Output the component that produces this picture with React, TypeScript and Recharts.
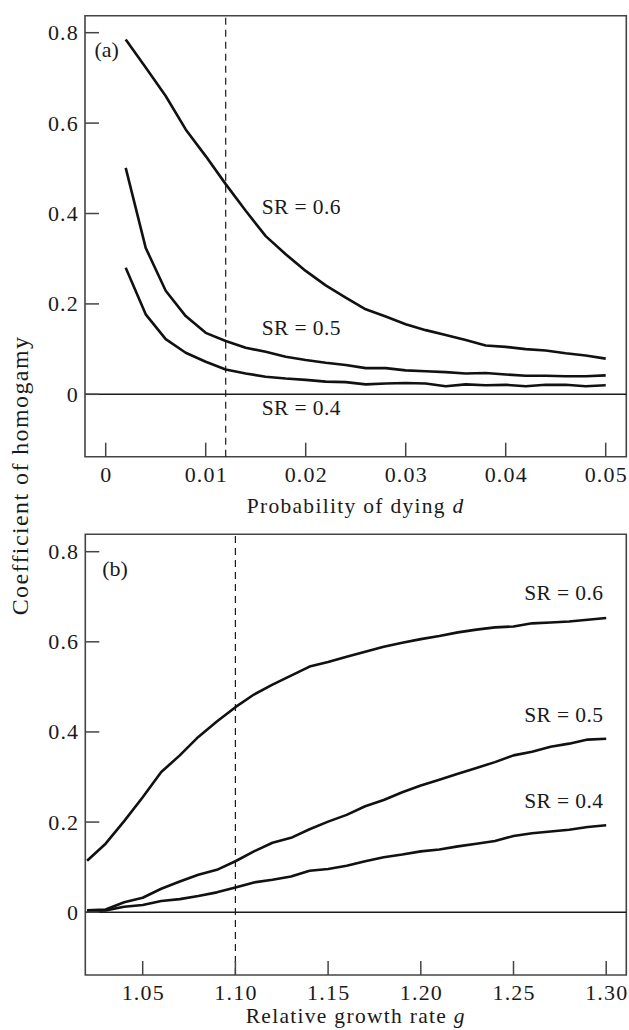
import React from 'react';
import { LineChart, Line, XAxis, YAxis, ReferenceLine, ReferenceArea, ReferenceDot } from 'recharts';

const FONT = '"Liberation Serif", "Times New Roman", serif';
const INK = '#1a1a1a';
const FRAME = '#444';

// Panel (a): probability of dying d
const dValues = [0.002, 0.004, 0.006, 0.008, 0.010, 0.012, 0.014, 0.016, 0.018, 0.020, 0.022, 0.024, 0.026, 0.028, 0.030, 0.032, 0.034, 0.036, 0.038, 0.040, 0.042, 0.044, 0.046, 0.048, 0.050];
const topSR06 = [0.785, 0.723, 0.660, 0.586, 0.527, 0.465, 0.406, 0.350, 0.310, 0.273, 0.241, 0.214, 0.188, 0.172, 0.155, 0.142, 0.131, 0.120, 0.108, 0.105, 0.100, 0.097, 0.091, 0.086, 0.079];
const topSR05 = [0.501, 0.324, 0.229, 0.173, 0.136, 0.118, 0.103, 0.094, 0.083, 0.076, 0.070, 0.065, 0.058, 0.058, 0.053, 0.051, 0.049, 0.046, 0.047, 0.044, 0.041, 0.041, 0.040, 0.040, 0.042];
const topSR04 = [0.280, 0.177, 0.122, 0.092, 0.072, 0.055, 0.046, 0.039, 0.035, 0.032, 0.028, 0.027, 0.022, 0.024, 0.025, 0.024, 0.018, 0.022, 0.020, 0.021, 0.018, 0.021, 0.021, 0.018, 0.020];
const topXTicks = [0, 0.01, 0.02, 0.03, 0.04, 0.05];

// Panel (b): relative growth rate g
const gValues = [1.02, 1.03, 1.04, 1.05, 1.06, 1.07, 1.08, 1.09, 1.10, 1.11, 1.12, 1.13, 1.14, 1.15, 1.16, 1.17, 1.18, 1.19, 1.20, 1.21, 1.22, 1.23, 1.24, 1.25, 1.26, 1.27, 1.28, 1.29, 1.30];
const botSR06 = [0.114, 0.152, 0.202, 0.255, 0.311, 0.348, 0.389, 0.423, 0.455, 0.483, 0.505, 0.525, 0.545, 0.555, 0.567, 0.578, 0.589, 0.598, 0.606, 0.613, 0.621, 0.627, 0.632, 0.634, 0.641, 0.643, 0.645, 0.649, 0.653];
const botSR05 = [0.004, 0.006, 0.022, 0.032, 0.052, 0.068, 0.083, 0.094, 0.113, 0.135, 0.154, 0.165, 0.184, 0.201, 0.216, 0.235, 0.249, 0.266, 0.281, 0.294, 0.307, 0.320, 0.333, 0.348, 0.356, 0.367, 0.374, 0.383, 0.385];
const botSR04 = [0.003, 0.004, 0.012, 0.016, 0.025, 0.029, 0.036, 0.044, 0.055, 0.066, 0.072, 0.079, 0.092, 0.096, 0.103, 0.113, 0.122, 0.128, 0.135, 0.139, 0.146, 0.152, 0.158, 0.169, 0.175, 0.179, 0.183, 0.189, 0.193];
const botXTicks = [1.05, 1.10, 1.15, 1.20, 1.25, 1.30];

const yTicks = [0, 0.2, 0.4, 0.6, 0.8];
const seriesKeys = ['sr06', 'sr05', 'sr04'];

const topData = dValues.map((d, i) => ({ x: d, sr06: topSR06[i], sr05: topSR05[i], sr04: topSR04[i] }));
const botData = gValues.map((g, i) => ({ x: g, sr06: botSR06[i], sr05: botSR05[i], sr04: botSR04[i] }));

const fmtTop = (v: number) => (v === 0 ? '0' : String(v));
const fmtBot = (v: number) => v.toFixed(2);
const fmtY = (v: number) => (v === 0 ? '0' : String(v));

const tickText = { fontFamily: FONT, fontSize: 22, fill: INK, letterSpacing: 1.2 } as const;

const makeYTick = () => (props: any) => {
  const { x, y, payload } = props;
  return (
    <g>
      <line x1={x} x2={x + 14} y1={y} y2={y} stroke={FRAME} strokeWidth={1.5} />
      <text x={x - 6} y={y} textAnchor="end" dominantBaseline="central" style={tickText}>
        {fmtY(payload.value)}
      </text>
    </g>
  );
};

const makeXTick = (fmt: (v: number) => string) => (props: any) => {
  const { x, y, payload } = props;
  return (
    <g>
      <line x1={x} x2={x} y1={y} y2={y - 14} stroke={FRAME} strokeWidth={1.5} />
      <text x={x + 0.6} y={y + 25} textAnchor="middle" style={tickText}>
        {fmt(payload.value)}
      </text>
    </g>
  );
};

const srLabel = (text: string, anchor: 'start' | 'end') => (props: any) => {
  const vb = props.viewBox || {};
  return (
    <text x={vb.x} y={vb.y} textAnchor={anchor} dominantBaseline="central"
      style={{ fontFamily: FONT, fontSize: 21.5, fill: INK, letterSpacing: 0.4 }}>
      {text}
    </text>
  );
};

const panelLabel = (text: string) => (props: any) => {
  const vb = props.viewBox || {};
  return (
    <text x={vb.x} y={vb.y} textAnchor="start" dominantBaseline="central"
      style={{ fontFamily: FONT, fontSize: 22, fill: INK }}>
      {text}
    </text>
  );
};

const xAxisLabel = (main: string, italic: string, dy: number) => (props: any) => {
  const vb = props.viewBox || {};
  return (
    <text x={vb.x + vb.width / 2} y={vb.y + dy} textAnchor="middle"
      style={{ fontFamily: FONT, fontSize: 21.5, fill: INK, letterSpacing: 1.3 }}>
      {main}
      <tspan fontStyle="italic">{italic}</tspan>
    </text>
  );
};

type PanelProps = {
  data: any[];
  xDomain: [number, number];
  yDomain: [number, number];
  xTicks: number[];
  fmtX: (v: number) => string;
  dashX: number;
  height: number;
  margin: { top: number; right: number; bottom: number; left: number };
  labels: { text: string; x: number; y: number; anchor: 'start' | 'end' }[];
  panel: { text: string; x: number; y: number };
  axisMain: string;
  axisItalic: string;
  axisDy: number;
};

const Panel = (p: PanelProps) => (
  <LineChart width={629} height={p.height} data={p.data} margin={p.margin}>
    <XAxis
      dataKey="x"
      type="number"
      domain={p.xDomain}
      allowDataOverflow
      ticks={p.xTicks}
      interval={0}
      height={1}
      tickSize={0}
      tickMargin={0}
      axisLine={false}
      tick={makeXTick(p.fmtX)}
      label={{ content: xAxisLabel(p.axisMain, p.axisItalic, p.axisDy) }}
    />
    <YAxis
      type="number"
      domain={p.yDomain}
      allowDataOverflow
      ticks={yTicks}
      interval={0}
      width={1}
      tickSize={0}
      tickMargin={0}
      axisLine={false}
      tick={makeYTick()}
    />
    <ReferenceArea x1={p.xDomain[0]} x2={p.xDomain[1]} y1={p.yDomain[0]} y2={p.yDomain[1]}
      fill="none" fillOpacity={0} stroke={FRAME} strokeWidth={1.6} ifOverflow="visible" />
    <ReferenceLine y={0} stroke={INK} strokeWidth={1.5} />
    <ReferenceLine x={p.dashX} stroke={INK} strokeWidth={1.2} strokeDasharray="7 5" />
    {seriesKeys.map((k) => (
      <Line key={k} type="linear" dataKey={k} stroke="#111" strokeWidth={2.6} dot={false}
        isAnimationActive={false} strokeLinejoin="round" />
    ))}
    {p.labels.map((l) => (
      <ReferenceDot key={l.text} x={l.x} y={l.y} r={0} fill="none" stroke="none"
        label={{ content: srLabel(l.text, l.anchor) }} />
    ))}
    <ReferenceDot x={p.panel.x} y={p.panel.y} r={0} fill="none" stroke="none"
      label={{ content: panelLabel(p.panel.text) }} />
  </LineChart>
);

export default function App() {
  return (
    <div style={{ position: 'absolute', left: 0, top: 0, width: 629, height: 1030, background: '#fff', overflow: 'hidden' }}>
      <div style={{ position: 'absolute', left: 0, top: 0 }}>
        <Panel
          data={topData}
          xDomain={[-0.00207, 0.05206]}
          yDomain={[-0.138, 0.8376]}
          xTicks={topXTicks}
          fmtX={fmtTop}
          dashX={0.012}
          height={520}
          margin={{ top: 15.7, right: 2.7, bottom: 62.3, left: 84 }}
          labels={[
            { text: 'SR = 0.6', x: 0.0156, y: 0.415, anchor: 'start' },
            { text: 'SR = 0.5', x: 0.0156, y: 0.146, anchor: 'start' },
            { text: 'SR = 0.4', x: 0.0156, y: -0.031, anchor: 'start' },
          ]}
          panel={{ text: '(a)', x: -0.00112, y: 0.763 }}
          axisMain="Probability of dying "
          axisItalic="d"
          axisDy={56}
        />
      </div>
      <div style={{ position: 'absolute', left: 0, top: 520 }}>
        <Panel
          data={botData}
          xDomain={[1.01904, 1.31084]}
          yDomain={[-0.1394, 0.8386]}
          xTicks={botXTicks}
          fmtX={fmtBot}
          dashX={1.10}
          height={510}
          margin={{ top: 14.3, right: 2.7, bottom: 54, left: 84.3 }}
          labels={[
            { text: 'SR = 0.6', x: 1.2985, y: 0.7076, anchor: 'end' },
            { text: 'SR = 0.5', x: 1.2985, y: 0.4378, anchor: 'end' },
            { text: 'SR = 0.4', x: 1.2985, y: 0.2471, anchor: 'end' },
          ]}
          panel={{ text: '(b)', x: 1.0282, y: 0.763 }}
          axisMain="Relative growth rate "
          axisItalic="g"
          axisDy={48}
        />
      </div>
      <svg width={629} height={1030} style={{ position: 'absolute', left: 0, top: 0, pointerEvents: 'none' }}>
        <text x={28} y={475.5} transform="rotate(-90 28 475.5)" textAnchor="middle"
          style={{ fontFamily: FONT, fontSize: 24, fill: INK, letterSpacing: 1.4 }}>
          Coefficient of homogamy
        </text>
      </svg>
    </div>
  );
}
